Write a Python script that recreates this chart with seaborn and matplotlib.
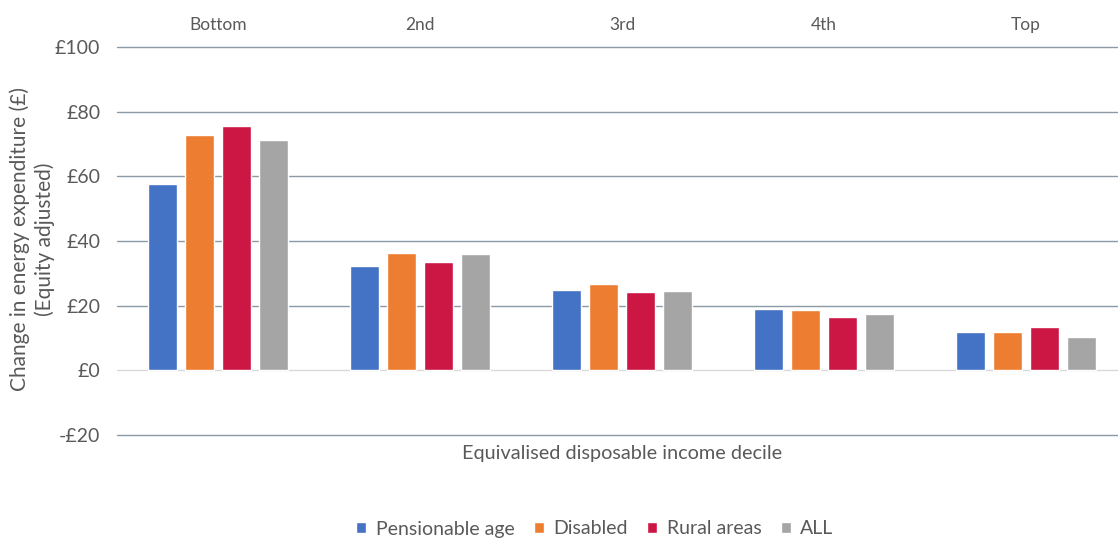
import numpy as np
import pandas as pd
import matplotlib
matplotlib.use("Agg")
import matplotlib.pyplot as plt
import seaborn as sns

deciles = ["Bottom", "2nd", "3rd", "4th", "Top"]
groups = ["Pensionable age", "Disabled", "Rural areas", "ALL"]
pensionable = [57.7, 32.4, 25.0, 19.1, 11.9]
disabled = [72.8, 36.3, 26.6, 18.8, 11.9]
rural = [75.6, 33.6, 24.1, 16.5, 13.4]
all_hh = [71.3, 36.0, 24.4, 17.4, 10.2]
yticks = [-20, 0, 20, 40, 60, 80, 100]
ytick_labels = ["-£20", "£0", "£20", "£40", "£60", "£80", "£100"]
colors = ["#4472C4", "#ED7D31", "#CC1744", "#A5A5A5"]

rows = []
for g, vals in zip(groups, [pensionable, disabled, rural, all_hh]):
    for d, v in zip(deciles, vals):
        rows.append({"decile": d, "group": g, "value": v})
df = pd.DataFrame(rows)

sns.set_theme(style="white")
plt.rcParams["font.family"] = ["Lato", "DejaVu Sans"]

fig = plt.figure(figsize=(11.18, 5.4), dpi=100)
ax = fig.add_axes([117 / 1118, 105 / 540, 1 - 117 / 1118, 388 / 540])

sns.barplot(data=df, x="decile", y="value", hue="group", order=deciles,
            hue_order=groups, palette=colors, width=0.733, gap=0.22,
            saturation=1, ax=ax, legend=True, zorder=3)

ax.set_ylim(-20, 100)
ax.set_xlim(-0.5, 4.455)
ax.set_yticks(yticks)
ax.set_yticklabels(ytick_labels)
for y in yticks:
    ax.axhline(y, color="#D9D9D9" if y == 0 else "#8C99A6", lw=1.0, zorder=1,
               clip_on=False)
ax.grid(False)
for s in ax.spines.values():
    s.set_visible(False)

ax.xaxis.tick_top()
ax.tick_params(axis="x", length=0, pad=10, labelsize=12.5, labelcolor="#595959")
ax.tick_params(axis="y", length=0, pad=12, labelsize=14, labelcolor="#595959")
ax.set_xlabel("")
ax.set_ylabel("")
fig.text(32 / 1118, 1 - 239 / 540, "Change in energy expenditure (£)\n(Equity adjusted)",
         rotation=90, ha="center", va="center", fontsize=15, color="#595959",
         linespacing=1.25, multialignment="center")
fig.text(622 / 1118, 1 - 453 / 540, "Equivalised disposable income decile",
         ha="center", va="center", fontsize=14.3, color="#595959")

handles, labels = ax.get_legend_handles_labels()
ax.legend(handles, labels, loc="center", bbox_to_anchor=(595 / 1118, 1 - 529 / 540),
          bbox_transform=fig.transFigure, ncol=4, frameon=False, fontsize=14,
          handlelength=0.5, handleheight=0.5, handletextpad=0.5, columnspacing=1.0,
          labelcolor="#595959")

fig.savefig("out.png", dpi=100)
